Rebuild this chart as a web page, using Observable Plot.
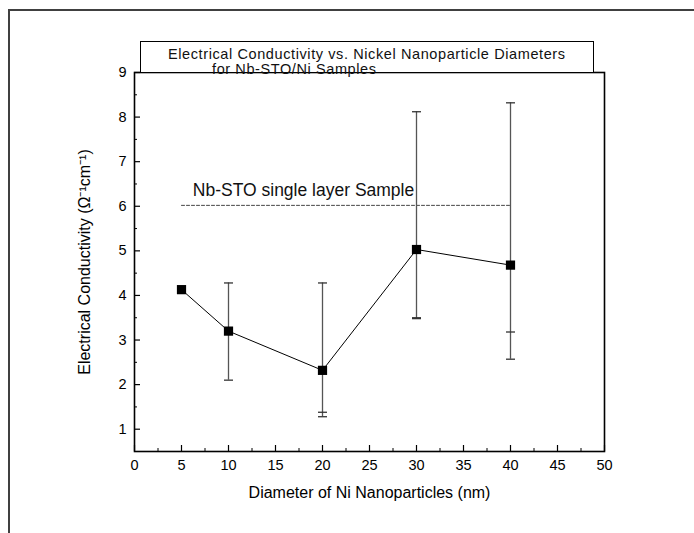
<!DOCTYPE html>
<html>
<head>
<meta charset="utf-8">
<script src="https://cdn.jsdelivr.net/npm/d3@7"></script>
<script src="https://cdn.jsdelivr.net/npm/@observablehq/plot@0.6"></script>
<style>
  html, body { margin: 0; padding: 0; background: #fff; }
  body { width: 694px; height: 533px; position: relative; overflow: hidden; font-family: Arial, "Liberation Sans", sans-serif; }
  #outer { position: absolute; left: 8px; top: 9px; width: 800px; height: 600px; border-left: 2px solid #404040; border-top: 2px solid #404040; }
  #chart { position: absolute; left: 0; top: 0; }
  #title { position: absolute; left: 140px; top: 41px; width: 454px; height: 32px; border: 1px solid #000; background: #fff; font-size: 14.5px; line-height: 14.5px; letter-spacing: 0.6px; color: #111; box-sizing: border-box; padding-top: 5px; }
  #title div { white-space: nowrap; }
</style>
</head>
<body>
<div id="outer"></div>
<div id="chart"></div>
<div id="title"><div style="padding-left:27px">Electrical Conductivity vs. Nickel Nanoparticle Diameters</div><div style="padding-left:71px">for Nb-STO/Ni Samples</div></div>
<script>
// Data
const diameters = [5, 10, 20, 30, 40];
const conductivity = [4.13, 3.2, 2.32, 5.03, 4.68];
const errHigh = [4.18, 4.28, 4.28, 8.12, 8.32];
const errLow = [4.08, 2.1, 1.38, 3.5, 3.18];
const errLowOuter = [4.08, 2.1, 1.28, 3.48, 2.57];

const singleLayerValue = 6.02;
const singleLayerRange = [5, 40];
const singleLayerLabel = "Nb-STO single layer Sample";
const singleLayerLabelX = 6.2;
const singleLayerLabelY = 6.35;

const xMajorTicks = [0, 5, 10, 15, 20, 25, 30, 35, 40, 45, 50];
const xMinorTicks = [2.5, 7.5, 12.5, 17.5, 22.5, 27.5, 32.5, 37.5, 42.5, 47.5];
const yMajorTicks = [1, 2, 3, 4, 5, 6, 7, 8, 9];
const yMinorTicks = [1.5, 2.5, 3.5, 4.5, 5.5, 6.5, 7.5, 8.5];

const xLabel = "Diameter of Ni Nanoparticles (nm)";
const yLabel = "Electrical Conductivity (Ω⁻¹cm⁻¹)";

const rows = diameters.map((d, i) => ({
  x: d, y: conductivity[i], hi: errHigh[i], lo: errLow[i], lo2: errLowOuter[i]
}));
const capRows = [];
rows.forEach(r => {
  capRows.push({x: r.x, y: r.hi});
  capRows.push({x: r.x, y: r.lo});
  if (r.lo2 !== r.lo) capRows.push({x: r.x, y: r.lo2});
});
const refLine = singleLayerRange.map(x => ({x, y: singleLayerValue}));

const hline = {
  draw(ctx, size) {
    const r = Math.sqrt(size / Math.PI);
    ctx.moveTo(-r, 0);
    ctx.lineTo(r, 0);
  }
};

const chart = Plot.plot({
  width: 694,
  height: 533,
  marginLeft: 134,
  marginRight: 90,
  marginTop: 72,
  marginBottom: 82,
  style: { fontFamily: "Arial, 'Liberation Sans', sans-serif", fontSize: "14.5px", color: "#000", background: "transparent" },
  x: { domain: [0, 50] },
  y: { domain: [0.5, 9] },
  marks: [
    // ticks (inward)
    Plot.axisX({ ticks: xMajorTicks, tickSize: -6, text: null, label: null, strokeWidth: 1.2 }),
    Plot.axisX({ ticks: xMinorTicks, tickSize: -3, text: null, label: null }),
    Plot.axisY({ ticks: yMajorTicks, tickSize: -6, text: null, label: null, strokeWidth: 1.2 }),
    Plot.axisY({ ticks: yMinorTicks, tickSize: -3, text: null, label: null }),
    // labels
    Plot.axisX({ ticks: xMajorTicks, tickSize: 0, tickPadding: 8, label: null, fontSize: 14.5 }),
    Plot.axisY({ ticks: yMajorTicks, tickSize: 0, tickPadding: 8, label: null, fontSize: 14.5 }),
    Plot.axisX({ ticks: [], tickSize: 0, label: xLabel, labelArrow: "none", labelAnchor: "center", labelOffset: 46, fontSize: 16 }),
    Plot.axisY({ ticks: [], tickSize: 0, label: yLabel, labelArrow: "none", labelAnchor: "center", labelOffset: 56, fontSize: 16 }),
    Plot.frame({ stroke: "#000", strokeWidth: 1.6 }),
    // reference line
    Plot.line(refLine, { x: "x", y: "y", stroke: "#444", strokeWidth: 1, strokeDasharray: "3,2" }),
    Plot.text([singleLayerLabel], { x: () => singleLayerLabelX, y: () => singleLayerLabelY, text: d => d, textAnchor: "start", fontSize: 17.5, fill: "#111" }),
    // error bars
    Plot.ruleX(rows, { x: "x", y1: "lo2", y2: "hi", stroke: "#555", strokeWidth: 1.3 }),
    Plot.dot(capRows, { x: "x", y: "y", symbol: hline, r: 4.5, stroke: "#333", strokeWidth: 1.3 }),
    // data
    Plot.line(rows, { x: "x", y: "y", stroke: "#000", strokeWidth: 1 }),
    Plot.dot(rows, { x: "x", y: "y", symbol: "square", r: 5.2, fill: "#000", stroke: "none" })
  ]
});
document.getElementById("chart").appendChild(chart);
</script>
</body>
</html>
